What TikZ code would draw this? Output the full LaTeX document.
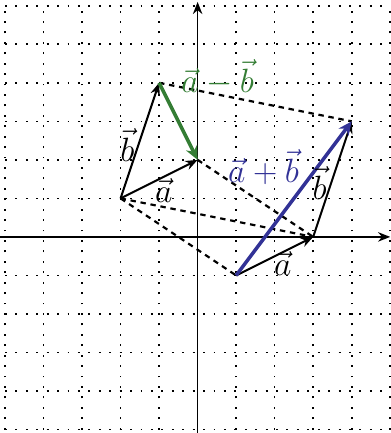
\documentclass[tikz,border=0pt]{standalone}
\usetikzlibrary{arrows.meta}
\definecolor{vgreen}{RGB}{52,125,52}
\definecolor{vblue}{RGB}{50,50,150}
\tikzset{
  vec/.style={line width=1.5pt,-{Stealth[length=9pt,width=7pt]}},
  bigvec/.style={line width=2.6pt,-{Stealth[length=10pt,width=9pt]}},
  aux/.style={line width=1.6pt,dash pattern=on 4pt off 3.5pt}
}
\begin{document}
\begin{tikzpicture}[line join = round,>=stealth,font=\Huge]
			\useasboundingbox (-5.13,-5.09) rectangle (5,6.15);
			\draw [line width=1.2pt,dash pattern=on 1.4pt off 6.3pt] (-5,-5) grid (5,6);
			\draw [line width=1.1pt,-{Stealth[length=9pt,width=7pt]}] (0,-5.1) --(0,6.1);
			\draw [line width=1.1pt,-{Stealth[length=9pt,width=7pt]}] (-5.13,0) --(5,0);
			% left triangle
			\coordinate (A) at (-2,1);
			\coordinate (B) at (0,2);
			\coordinate (C) at (-1,4);
			% right triangle
			\coordinate (P) at (1,-1);
			\coordinate (Q) at (3,0);
			\coordinate (R) at (4,3);
			\draw [aux] (C) -- (R) (B) -- (Q) (A) -- (Q) (A) -- (P);
			\draw [vec] (A) -- (B);
			\draw [vec] (A) -- (C);
			\draw [vec] (P) -- (Q);
			\draw [vec] (Q) -- (R);
			\draw [bigvec,vgreen] (C) -- (B);
			\draw [bigvec,vblue] (P) -- (R);
			\node (la) at (-0.88,1.2) {$\vec{a}$};
			\node (lb) at (-1.82,2.38) {$\vec{b}$};
			\node (la2) at (2.21,-0.7) {$\vec{a}$};
			\node (lb2) at (3.17,1.4) {$\vec{b}$};
			\node [vgreen] (ldiff) at (0.52,4.13) {$\vec{a}-\vec{b}$};
			\node [vblue] (lsum) at (1.71,1.82) {$\vec{a}+\vec{b}$};
	\end{tikzpicture}
\end{document}
